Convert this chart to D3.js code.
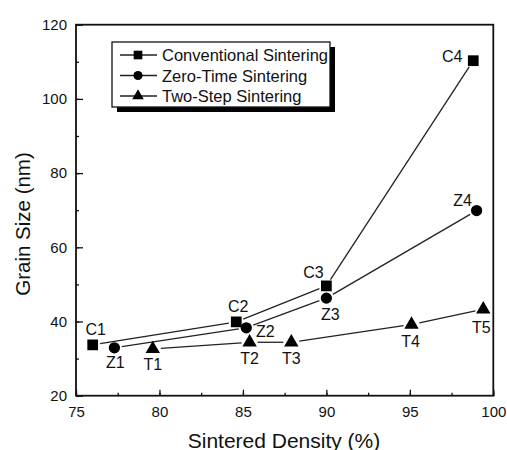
<!DOCTYPE html>
<html><head><meta charset="utf-8">
<script src="https://cdn.jsdelivr.net/npm/d3@7"></script>
<style>body{margin:0;background:#fff}svg{display:block}text{font-family:"Liberation Sans",Arial,sans-serif;fill:#111}</style>
</head><body><svg id="c" width="507" height="450"></svg>
<script>
// Data
const seriesNames = ["Conventional Sintering","Zero-Time Sintering","Two-Step Sintering"];
const convDensity = [76.0, 84.6, 90.0, 98.8];
const convGrain   = [33.7, 39.9, 49.6, 110.3];
const convLabels  = ["C1","C2","C3","C4"];
const zeroDensity = [77.3, 85.2, 90.0, 99.0];
const zeroGrain   = [32.9, 38.3, 46.3, 69.9];
const zeroLabels  = ["Z1","Z2","Z3","Z4"];
const twoDensity  = [79.6, 85.4, 87.9, 95.1, 99.4];
const twoGrain    = [32.6, 34.4, 34.4, 39.2, 43.3];
const twoLabels   = ["T1","T2","T3","T4","T5"];
const xTicks = [75, 80, 85, 90, 95, 100];
const yTicks = [20, 40, 60, 80, 100, 120];

// Layout (label offsets in px, not data)
const labelOffsets = {
  C1:[3,-15], C2:[2,-15], C3:[-13,-13], C4:[-21,-4],
  Z1:[1,15], Z2:[19,4], Z3:[4,16], Z4:[-14,-10],
  T1:[0,16], T2:[0,16], T3:[0,16], T4:[-1,17], T5:[-2,18]
};

const svg = d3.select("#c");
const x = d3.scaleLinear().domain([75,100]).range([76,493.3]);
const y = d3.scaleLinear().domain([20,120]).range([395.7,24.7]);

const series = [
  {name:seriesNames[0], xs:convDensity, ys:convGrain, labels:convLabels, sym:d3.symbolSquare, size:115, r:6},
  {name:seriesNames[1], xs:zeroDensity, ys:zeroGrain, labels:zeroLabels, sym:d3.symbolCircle, size:100, r:6},
  {name:seriesNames[2], xs:twoDensity,  ys:twoGrain,  labels:twoLabels,  sym:d3.symbolTriangle, size:90, r:6.5}
];

// Axes with inward ticks
const fmt = d3.format("d");
const xMinor = d3.range(75, 100.01, 2.5);
const yMinor = d3.range(20, 120.01, 10);
const gx = svg.append("g").attr("transform",`translate(0,${y(20)})`)
  .call(d3.axisBottom(x).tickValues(xMinor).tickSize(-3).tickFormat(""));
gx.select(".domain").remove();
const gx2 = svg.append("g").attr("transform",`translate(0,${y(20)})`)
  .call(d3.axisBottom(x).tickValues(xTicks).tickSize(-6).tickPadding(14).tickFormat(fmt));
gx2.select(".domain").remove();
gx2.selectAll("text").attr("font-size",15).attr("dy","0.35em").attr("y",16);
const gy = svg.append("g").attr("transform",`translate(${x(75)},0)`)
  .call(d3.axisLeft(y).tickValues(yMinor).tickSize(-3).tickFormat(""));
gy.select(".domain").remove();
const gy2 = svg.append("g").attr("transform",`translate(${x(75)},0)`)
  .call(d3.axisLeft(y).tickValues(yTicks).tickSize(-7).tickPadding(9).tickFormat(fmt));
gy2.select(".domain").remove();
gy2.selectAll("text").attr("font-size",15).attr("x",-9);
svg.selectAll(".tick line").attr("stroke","#111").attr("stroke-width",1.3);

// Frame
svg.append("rect").attr("x",x(75)).attr("y",y(120)).attr("width",x(100)-x(75)).attr("height",y(20)-y(120))
  .attr("fill","none").attr("stroke","#111").attr("stroke-width",1.8);

// Lines with small gaps at markers
series.forEach(s=>{
  for(let i=0;i<s.xs.length-1;i++){
    const x1=x(s.xs[i]), y1=y(s.ys[i]), x2=x(s.xs[i+1]), y2=y(s.ys[i+1]);
    const dx=x2-x1, dy=y2-y1, L=Math.hypot(dx,dy), g=s.r+1.5;
    svg.append("line").attr("x1",x1+dx/L*g).attr("y1",y1+dy/L*g)
      .attr("x2",x2-dx/L*g).attr("y2",y2-dy/L*g)
      .attr("stroke","#222").attr("stroke-width",1.3);
  }
  s.xs.forEach((v,i)=>{
    svg.append("path").attr("d",d3.symbol().type(s.sym).size(s.size)())
      .attr("transform",`translate(${x(v)},${y(s.ys[i])})`).attr("fill","#000");
    const o = labelOffsets[s.labels[i]];
    svg.append("text").attr("x",x(v)+o[0]).attr("y",y(s.ys[i])+o[1])
      .attr("text-anchor","middle").attr("dominant-baseline","central")
      .attr("font-size",16).text(s.labels[i]);
  });
});

// Axis titles
svg.append("text").attr("x",284).attr("y",440).attr("text-anchor","middle")
  .attr("dominant-baseline","central").attr("font-size",21).text("Sintered Density (%)");
svg.append("text").attr("transform","translate(22,224) rotate(-90)").attr("text-anchor","middle")
  .attr("dominant-baseline","central").attr("font-size",20.5).text("Grain Size (nm)");

// Legend
const lg = svg.append("g");
lg.append("rect").attr("x",117).attr("y",47).attr("width",218).attr("height",65).attr("fill","#000");
lg.append("rect").attr("x",112).attr("y",42).attr("width",218).attr("height",65)
  .attr("fill","#fff").attr("stroke","#111").attr("stroke-width",1.3);
series.forEach((s,i)=>{
  const cy = 55 + i*20.5;
  lg.append("line").attr("x1",120).attr("x2",157).attr("y1",cy).attr("y2",cy)
    .attr("stroke","#222").attr("stroke-width",1.3);
  lg.append("path").attr("d",d3.symbol().type(s.sym).size(s.size*0.65)())
    .attr("transform",`translate(138,${cy})`).attr("fill","#000");
  lg.append("text").attr("x",162).attr("y",cy).attr("dominant-baseline","central")
    .attr("font-size",16.5).text(s.name);
});
</script></body></html>
